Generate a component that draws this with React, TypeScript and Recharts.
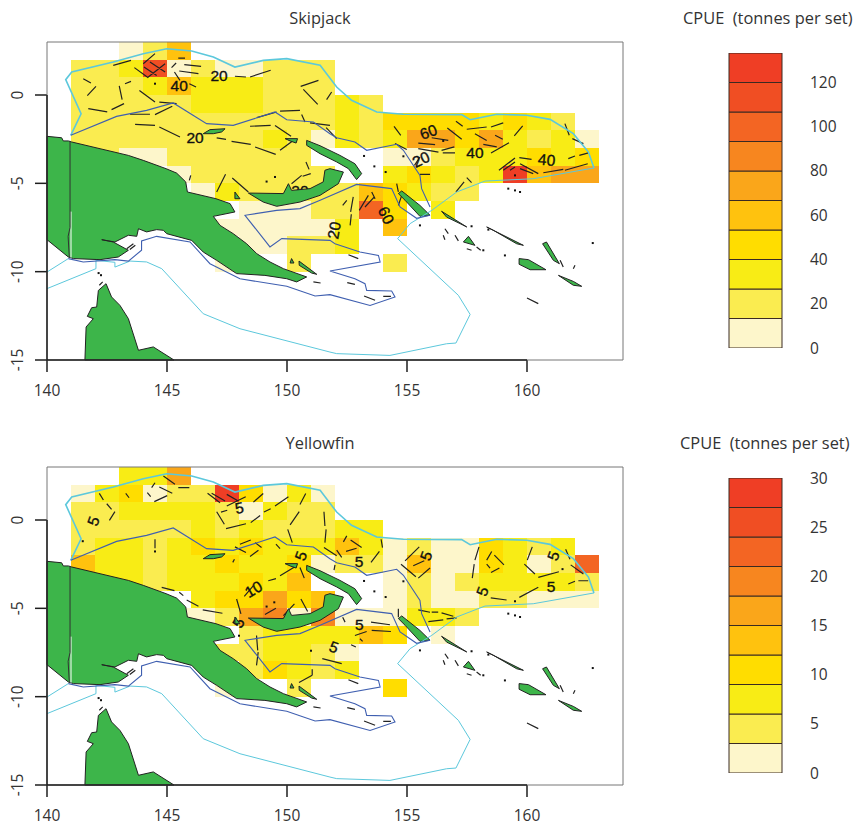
import React from 'react'
import { ScatterChart, Scatter, XAxis, YAxis } from 'recharts'

// ---- colour classes (low to high) ----
const palette = ['#FDF6CB', '#FAEC50', '#F8EC15', '#FFDD00', '#FFC20E', '#FAA61A', '#F7861F', '#F36523', '#F04E23', '#EF3E25']

// ---- axes ----
const lonTicks = [140, 145, 150, 155, 160]
const latTicks = [0, -5, -10, -15]
const lonDomain = [140, 164]
const latDomain = [-15, 3]

// ---- CPUE grid: one row per degree of latitude, first column is 141E ----
const firstLon = 141
const rowTops = [3, 2, 1, 0, -1, -2, -3, -4, -5, -6, -7, -8, -9]
const _ = null

const skipjackRows = [
  [_, _, 7, 20, 60],
  [20, 20, 33, 113, 7, 20, 7, 7, 20, 20, 20],
  [20, 20, 20, 33, 60, 33, 33, 33, 20, 20, 20],
  [20, 20, 20, 20, 20, 33, 33, 33, 20, 20, 20, 33, 20],
  [20, 20, 20, 20, 20, 20, 20, 20, 20, 20, 20, 33, 20, 47, 47, 47, 47, 33, 47, 33, 20],
  [20, 20, 20, 20, 20, 20, 20, 20, 33, 20, 7, 33, 20, 33, 73, 73, 47, 73, 33, 20, 33, 7],
  [20, 20, 7, 7, 20, 20, 20, 20, 20, 20, _, _, _, 7, 7, 20, 33, 33, 33, 47, 33, 47],
  [_, _, _, _, 7, 20, 20, 20, 20, 20, 20, _, _, 33, 47, 33, 20, 33, 127, 60, 73, 73],
  [_, _, _, _, _, 7, 33, 20, 20, 20, 20, 20, 60, 47, 33, 20, 20],
  [_, _, _, _, _, _, _, 7, 7, 7, 20, 20, 100, 47, _, 33],
  [_, _, _, _, _, _, 7, 7, 7, 7, 7, 33, _, 60],
  [_, _, _, _, _, _, _, 7, 7, 20, 20, 33],
  [_, _, _, _, _, _, 7, _, _, 20, _, _, _, 20],
]

const yellowfinRows = [
  [_, _, 7.5, 7.5, 16.5],
  [1.5, 7.5, 10.5, 1.5, 4.5, 4.5, 28.5, 10.5, 1.5, 7.5, 1.5],
  [4.5, 4.5, 7.5, 7.5, 7.5, 7.5, 4.5, 1.5, 7.5, 4.5, 4.5],
  [4.5, 4.5, 4.5, 4.5, 4.5, 7.5, 4.5, 7.5, 4.5, 4.5, 4.5, 7.5, 7.5],
  [4.5, 7.5, 7.5, 4.5, 7.5, 10.5, 7.5, 10.5, 7.5, 7.5, 7.5, 13.5, 7.5, 1.5, 4.5, 1.5, 1.5, 10.5, 7.5, 4.5, 7.5],
  [13.5, 7.5, 7.5, 4.5, 7.5, 7.5, 10.5, 7.5, 7.5, 10.5, 1.5, 4.5, 4.5, 1.5, 13.5, 1.5, 1.5, 10.5, 7.5, 1.5, 4.5, 22.5],
  [7.5, 7.5, 7.5, 4.5, 7.5, 7.5, 7.5, 10.5, 7.5, 13.5, _, _, _, 1.5, 4.5, 1.5, 4.5, 7.5, 7.5, 7.5, 7.5, 4.5],
  [_, _, _, _, _, 7.5, 10.5, 10.5, 16.5, 10.5, 13.5, _, _, 1.5, 4.5, 1.5, 1.5, 4.5, 4.5, 1.5, 1.5, 1.5],
  [_, _, _, _, 1.5, 1.5, 4.5, 16.5, 19.5, 1.5, 19.5, 1.5, 1.5, 1.5, 7.5, 7.5, 4.5],
  [_, _, _, _, _, _, _, 4.5, 7.5, 7.5, 7.5, 7.5, 13.5, 10.5, _, 1.5],
  [_, _, _, _, _, _, 4.5, 4.5, 7.5, 7.5, 4.5, 1.5],
  [_, _, _, _, _, _, _, 4.5, 10.5, 7.5, 4.5, 7.5],
  [_, _, _, _, _, _, 1.5, _, _, 4.5, _, _, _, 10.5],
]

// ---- legends ----
const skipjackBandWidth = 13.33
const yellowfinBandWidth = 3
const skipjackLegendTicks = [0, 20, 40, 60, 80, 100, 120]
const yellowfinLegendTicks = [0, 5, 10, 15, 20, 25, 30]

// ---- map outlines, [lon, lat] ----
const newGuinea = [
  [140, -2.34], [140.61, -2.42], [140.68, -2.6], [140.89, -2.6], [141.03, -2.66], [142.21, -3.04], [143.39, -3.42],
  [144.01, -3.7], [144.96, -4.17], [145.4, -4.42], [145.78, -4.92], [145.85, -5.49], [147.04, -5.87], [147.63, -6.15],
  [147.83, -6.62], [146.93, -6.87], [147.21, -7.38], [147.76, -7.85], [148.32, -8.42], [148.74, -8.98], [149.29, -9.45],
  [149.85, -9.83], [150.82, -10.3], [150.4, -10.58], [149.99, -10.4], [149.08, -10.21], [147.9, -10.11], [147.07, -9.36],
  [146.51, -8.89], [146.03, -8.23], [144.99, -7.85], [144.85, -7.66], [144.57, -7.62], [144.15, -7.75], [143.81, -7.57],
  [143.74, -8.0], [143.39, -7.94], [142.83, -8.32], [142.28, -8.19], [142.76, -8.32], [143.39, -8.79], [142.97, -9.17],
  [142.21, -9.32], [141.1, -9.26], [140.89, -9.17], [140, -8.19],
]
const capeYork = [
  [142.46, -10.68], [142.69, -11.43], [143.04, -11.91], [143.39, -12.66], [143.81, -14.45], [144.43, -14.26], [145.29, -15],
  [141.58, -15], [141.63, -13.13], [141.93, -12.66], [141.68, -12.53], [141.86, -12.04], [142.07, -12.0], [142.14, -11.06],
]
const islands = [
  [[148.39, -5.55], [149.85, -5.58], [150.06, -5.02], [150.19, -5.4], [150.96, -5.3], [151.51, -4.92], [151.58, -4.26], [151.79, -4.17], [152.35, -4.36], [152.14, -5.02], [151.375, -5.68], [150.54, -6.06], [149.57, -6.3], [149.01, -6.06]],
  [[150.82, -2.57], [151.375, -2.87], [152.21, -3.42], [152.83, -3.89], [153.11, -4.45], [152.9, -4.79], [152.56, -4.17], [152.07, -3.79], [151.375, -3.32], [150.82, -2.85]],
  [[154.78, -5.43], [155.54, -6.25], [155.96, -6.81], [155.54, -6.87], [154.92, -5.96], [154.64, -5.58]],
  [[156.44, -6.58], [157.49, -7.47], [157.21, -7.28], [156.65, -6.91]],
  [[158.32, -7.47], [159.85, -8.51], [159.57, -8.42], [158.6, -7.66]],
  [[157.35, -8.32], [157.56, -8.0], [157.83, -8.51]],
  [[160.65, -8.42], [160.81, -8.32], [161.35, -9.55], [161.1, -9.36]],
  [[159.67, -9.26], [160.06, -9.32], [160.79, -9.89], [160.13, -9.89], [159.67, -9.58]],
  [[161.31, -10.21], [161.93, -10.55], [162.28, -10.83], [161.93, -10.77]],
  [[146.51, -2.19], [146.79, -1.96], [147.42, -1.91], [147.28, -2.09], [146.93, -2.19]],
  [[149.92, -2.47], [150.44, -2.47], [150.38, -2.72], [150.13, -2.6]],
  [[147.83, -5.49], [148.04, -5.87], [147.83, -5.87]],
  [[150.19, -9.26], [150.29, -9.51], [150.13, -9.51]],
  [[150.5, -9.4], [151.24, -10.15], [151.03, -10.08], [150.51, -9.64]],
]
const borderLine = [[140.96, -2.6], [140.96, -7.5], [140.88, -8.0], [140.93, -9.2]]
const borderGap = [[141.0, -6.6], [141.0, -9.2]]

const eezNorth = [
  [140.99, -2.28], [141.42, -1.06], [140.78, 0.87], [141.03, 1.3], [142.76, 1.87], [144.01, 2.34], [144.99, 2.62], [146.03, 2.49],
  [146.93, 2.15], [147.83, 1.58], [149.01, 1.96], [149.99, 2.06], [151.38, 1.68], [152.07, 0.45], [152.69, -0.3], [153.74, -0.96],
  [154.85, -1.09], [157.28, -1.11], [157.63, -1.4], [158.74, -1.09], [159.99, -1.15], [160.96, -1.38], [161.93, -2.19], [162.56, -3.23],
  [162.79, -4.13],
]
const eezSouth = [
  [162.79, -4.13], [160.26, -4.74], [158.25, -4.87], [157.07, -5.49], [156.03, -6.53], [155.13, -7.28], [154.61, -8.13], [157.14, -11.34],
  [157.63, -12.42], [157.04, -14.04], [156.65, -14.08], [154.29, -14.74], [152.07, -14.64], [151.79, -14.55], [148.04, -13.23],
  [146.51, -12.38], [144.78, -9.83], [144.15, -9.45], [143.46, -9.4], [142.83, -9.74], [142.83, -9.47], [142.04, -9.36], [142.04, -9.83], [140, -10.96],
]
const eezWest = [[140.89, -9.26], [140, -10.02]]
const provinceNorth = [
  [140.99, -2.28], [142.9, -1.21], [144.15, -0.87], [145.26, -0.45], [146.65, -1.62], [147.76, -1.72], [149.5, -0.96], [149.99, -1.4],
  [151.1, -1.53], [151.79, -2.19], [152.07, -2.42], [152.83, -2.66], [153.32, -3.13], [154.57, -2.79], [154.85, -3.13], [155.54, -4.55],
  [155.61, -5.3], [155.96, -6.34],
]
const provinceSouth = [
  [140.89, -9.26], [141.51, -9.45], [142.83, -9.32], [143.39, -9.4], [143.94, -8.79], [143.94, -8.26], [144.57, -8.0], [145.96, -8.32],
  [146.79, -9.55], [148.04, -10.4], [149.99, -10.83], [151.17, -11.38], [151.79, -11.3], [153.46, -11.91], [154.5, -11.43], [154.36, -11.09],
  [153.32, -11.06], [153.25, -10.68], [152.83, -10.4], [151.79, -9.96], [153.88, -9.45], [153.81, -9.08], [153.04, -8.89], [152.0, -8.42],
  [151.79, -8.23], [149.78, -8.13], [149.29, -8.6], [148.25, -6.81], [149.57, -6.53], [150.54, -6.43], [151.38, -5.96], [152.9, -5.06],
  [154.36, -5.3], [154.71, -6.34], [155.4, -6.98], [155.96, -6.81],
]

// small islands too thin to fill, same on both maps
const islandStrokes = [
  [143.32, -8.7, 143.6, -8.42], [143.45, -8.75, 143.68, -8.5], [142.18, -10.77, 142.32, -10.58], [151.1, -10.58, 151.4, -10.64],
  [156.51, -7.94, 156.58, -8.19], [156.58, -7.57, 156.72, -7.85], [157.0, -7.94, 157.14, -8.26], [157.49, -8.7, 157.69, -8.79],
  [157.9, -8.6, 158.07, -8.79], [161.38, -9.36, 161.51, -9.74], [161.93, -9.83, 162.0, -9.64], [160.0, -11.49, 160.47, -11.81],
  [152.51, -10.62, 152.83, -10.72], [153.21, -11.38, 153.67, -11.62], [154.01, -11.4, 154.33, -11.4], [152.56, -9.04, 152.97, -9.26],
]
const islandDots = [
  [153.21, -3.45], [153.64, -4.04], [154.11, -4.36], [154.85, -3.47], [159.22, -5.3], [159.5, -5.4], [159.71, -5.49], [155.54, -7.38],
  [157.69, -7.43], [158.39, -7.62], [158.18, -8.79], [159.08, -9.08], [162.74, -8.38], [142.15, -10.08], [142.25, -10.2],
]

// ---- contour pieces, [lon1, lat1, lon2, lat2] ----
const skipjackContours = [
  [141.51, 0.92, 141.83, 0.68], [141.68, -0.04, 142.04, 0.49], [141.72, -0.77, 142.51, -0.96], [142.69, -0.83, 143.21, -0.49],
  [143.01, 0.51, 143.13, -0.26], [143.25, 0.64, 143.5, 0.77], [142.76, 1.68, 143.5, 1.96], [143.64, 1.55, 144.22, 0.98],
  [144.01, 1.77, 144.5, 2.34], [144.04, 1.58, 144.57, 1.11], [144.29, 1.87, 144.92, 1.3], [144.22, 1.02, 144.92, 1.77],
  [145.31, 1.3, 145.54, 0.83], [145.47, 2.09, 145.75, 2.09], [145.72, 1.72, 146.42, 1.62], [145.51, 1.36, 146.31, 1.21],
  [145.93, 0.64, 146.21, 0.45], [145.19, 1.55, 145.38, 1.81], [143.85, 0.26, 144.5, -0.4], [144.68, -0.4, 145.4, -0.49],
  [144.5, -1.11, 145.22, -0.64], [143.46, -1.09, 144.29, -1.09], [143.67, -1.66, 144.5, -1.72], [144.68, -1.81, 145.54, -2.38],
  [147.83, 1.06, 148.29, 1.02], [148.46, 1.02, 149.32, 1.4], [150.57, 0.49, 151.31, 0.83], [150.68, 0.32, 151.28, -0.53],
  [149.71, -0.91, 150.54, -0.87], [148.74, -1.28, 149.57, -0.96], [148.46, -1.77, 149.32, -1.72], [149.5, -1.72, 150.17, -2.34],
  [149.71, -3.13, 150.26, -2.57], [148.67, -2.94, 149.53, -3.36], [147.69, -2.62, 148.49, -2.79], [147.07, -2.43, 147.46, -2.51],
  [150.61, -1.11, 150.75, -1.53], [150.96, -1.58, 151.79, -1.72], [150.65, -4.6, 150.99, -4.45], [150.79, -3.79, 150.92, -4.21],
  [150.19, -5.02, 150.61, -4.55], [147.72, -4.7, 148.39, -5.49], [147.07, -5.49, 147.44, -4.49], [145.93, -4.83, 145.99, -4.55],
  [151.65, -0.26, 151.86, 0.17], [151.63, -1.85, 152.07, -2.47], [154.46, -1.77, 154.74, -2.28], [157.04, -1.49, 157.32, -1.77],
  [157.49, -1.94, 158.32, -1.81], [158.5, -1.81, 159.01, -1.58], [159.47, -2.32, 159.82, -1.75], [156.68, -1.87, 157.28, -2.51],
  [154.5, -2.75, 154.99, -3.09], [155.47, -2.72, 156.17, -2.81], [155.47, -3.04, 156.31, -3.23], [156.44, -3.13, 156.97, -2.94],
  [156.03, -2.42, 156.72, -2.57], [156.49, -3.28, 157.0, -3.28], [157.83, -2.19, 158.32, -2.57], [158.67, -2.28, 158.99, -2.51],
  [158.18, -2.79, 158.74, -2.94], [158.5, -3.28, 159.25, -2.7], [158.83, -4.26, 159.5, -3.57], [159.01, -4.26, 159.5, -3.79],
  [159.29, -4.26, 159.5, -4.08], [159.68, -3.55, 160.19, -3.64], [159.71, -3.89, 160.47, -4.45], [159.71, -4.17, 160.26, -4.45],
  [160.68, -4.4, 161.51, -4.21], [161.72, -3.6, 162.0, -3.45], [161.58, -4.26, 162.53, -3.89], [162.18, -3.42, 162.56, -3.28],
  [161.58, -1.62, 161.76, -2.28], [161.89, -2.47, 162.35, -2.75], [157.04, -5.49, 157.38, -4.92], [157.49, -4.68, 157.69, -4.96],
  [155.31, -3.98, 155.54, -3.51], [155.54, -4.49, 155.96, -4.49], [153.53, -5.49, 153.67, -5.87], [153.01, -6.53, 153.39, -5.68],
  [153.25, -6.34, 153.64, -5.77], [152.32, -6.25, 152.49, -5.96], [152.76, -5.77, 152.65, -6.62], [154.57, -5.02, 154.64, -5.49],
  [154.64, -6.25, 154.78, -5.68], [152.68, -6.75, 152.63, -7.38],
]
const yellowfinContours = [
  [142.18, 1.51, 142.35, 1.13], [142.49, 0.92, 142.69, 0.6], [142.6, -0.02, 142.83, 0.47], [143.28, 1.51, 143.42, 1.26],
  [144.36, 1.83, 144.5, 2.11], [144.18, 1.55, 144.32, 1.32], [144.68, 1.87, 145.22, 1.51], [144.85, 2.49, 145.33, 2.02],
  [144.47, 1.04, 145.01, 1.38], [145.47, 1.83, 145.93, 1.83], [146.69, 1.51, 147.21, 0.98], [146.86, 1.51, 147.42, 1.08],
  [147.49, 1.45, 147.97, 1.08], [147.49, 0.79, 148.28, 1.32], [147.07, 0.47, 147.39, -0.24], [147.25, 0.45, 147.51, 0.55],
  [147.46, -0.49, 148.29, -0.21], [148.49, -0.15, 148.88, 0.26], [149.04, 0.45, 149.32, 0.64], [149.5, 0.79, 150.06, 1.31],
  [148.6, 1.01, 149.01, 1.5], [150.54, 0.88, 150.78, 1.5], [150.13, -0.28, 150.51, 0.47], [150.03, -0.53, 150.22, -1.28],
  [151.54, 0.47, 151.58, -0.34], [151.63, -0.53, 151.58, -1.28], [151.54, -1.56, 152.07, -2.03], [152.0, -2.54, 151.96, -2.84],
  [148.04, -1.37, 148.49, -1.13], [147.83, -1.52, 148.29, -1.84], [148.46, -2.07, 148.81, -1.71], [148.67, -1.28, 148.94, -1.56],
  [149.54, -1.37, 149.71, -1.62], [144.5, -1.09, 144.5, -1.6], [149.71, -3.15, 150.4, -2.59], [149.22, -3.44, 149.54, -3.32],
  [150.54, -2.69, 150.72, -3.29], [147.74, -2.4, 147.81, -2.22], [148.22, -4.32, 148.6, -3.72], [147.9, -4.47, 148.08, -5.31],
  [149.08, -5.35, 149.54, -5.0], [149.85, -5.41, 150.31, -4.75], [150.58, -4.47, 150.86, -5.18], [144.78, -3.81, 145.31, -4.0],
  [145.51, -4.09, 145.68, -4.28], [145.82, -4.53, 146.31, -4.88], [146.49, -5.09, 147.31, -5.28], [148.73, -6.54, 148.78, -7.38],
  [148.8, -7.48, 148.73, -8.23], [152.35, -1.24, 152.49, -0.9], [152.65, -1.13, 153.11, -1.56], [152.46, -1.78, 152.9, -1.6],
  [152.07, -1.71, 152.28, -2.12], [153.5, -2.4, 153.85, -1.78], [153.92, -1.09, 153.98, -1.56], [154.92, -2.31, 155.51, -1.52],
  [154.75, -2.5, 155.37, -3.21], [155.47, -3.29, 155.96, -2.72], [155.26, -2.59, 155.72, -2.31], [158.0, -1.52, 157.83, -2.27],
  [157.8, -2.5, 157.72, -3.29], [158.32, -2.5, 158.46, -2.72], [158.32, -2.27, 158.53, -1.78], [158.64, -1.99, 159.04, -2.54],
  [158.5, -2.97, 158.85, -2.72], [160.22, -1.52, 160.01, -2.27], [159.89, -2.5, 160.33, -3.06], [160.47, -3.25, 161.33, -2.93],
  [161.61, -1.65, 161.79, -2.22], [161.82, -2.54, 162.35, -3.06], [161.72, -3.62, 162.0, -3.47], [162.14, -3.44, 162.55, -3.44],
  [159.68, -4.38, 160.47, -3.81], [158.49, -4.41, 159.15, -4.53], [155.47, -5.09, 155.96, -5.22], [156.03, -5.22, 156.3, -5.22],
  [156.44, -5.26, 156.93, -5.45], [156.65, -5.6, 157.07, -5.54], [155.89, -5.75, 156.51, -5.65], [154.64, -5.03, 154.64, -5.5],
  [153.5, -5.78, 154.29, -5.93], [153.53, -6.25, 154.33, -6.31], [152.83, -6.54, 153.32, -6.31], [153.04, -6.72, 153.15, -6.87],
  [152.32, -5.5, 152.42, -5.78], [152.67, -7.06, 152.87, -7.19], [151.47, -7.85, 152.28, -8.13], [151.05, -8.45, 151.05, -8.79],
  [151.05, -8.79, 150.5, -9.2],
]

// contour labels: lon, lat, text, angle
const skipjackLabels: [number, number, string, number][] = [
  [147.17, 1.11, '20', 0], [145.51, 0.51, '40', 0], [146.17, -2.38, '20', 0], [150.54, -5.43, '20', 0],
  [155.89, -2.09, '60', -20], [157.83, -3.28, '40', 0], [160.82, -3.66, '40', 5], [155.58, -3.64, '20', -25],
  [154.13, -6.81, '60', 65], [151.96, -7.66, '20', -80],
]
const yellowfinLabels: [number, number, string, number][] = [
  [141.93, -0.06, '5', -70], [148.01, 0.69, '5', -10], [150.58, -2.03, '5', -70], [148.6, -3.91, '10', -30],
  [147.97, -5.82, '5', -60], [151.96, -7.19, '5', 20], [153.0, -2.37, '5', 0], [155.79, -2.03, '5', -70],
  [161.1, -2.03, '5', -70], [158.14, -4.04, '5', -70], [161.0, -3.77, '5', 0], [153.01, -5.93, '5', 0],
]

const skipjackDots = [[144.5, 0.64], [149.15, -4.9], [149.5, -4.64], [156.51, -2.6], [159.5, -4.55]]
const yellowfinDots = [[141.49, -1.2], [144.5, -1.78], [149.15, -4.9], [149.47, -4.66], [161.48, -2.78], [159.5, -4.6], [148.0, -6.55], [151.0, -7.4]]

const TEXT_FONT = '"Open Sans", sans-serif'
const LAND = '#3DB54A'
const CYAN = '#5CC8DC'
const BLUE = '#3F5FB0'
const INK = '#1E1E1E'

type Pt = { x: number; y: number }
const toPts = (coords: number[][]) => coords.map(([x, y]) => ({ x, y }))
const noDot = () => <g />

// polyline or polygon drawn through the chart's scales
function pathLayer(key: string, coords: number[][], style: React.SVGProps<SVGPathElement>, closed = false) {
  const draw = (p: { points: Pt[] }) => {
    const d = p.points.map((q, i) => `${i ? 'L' : 'M'}${q.x} ${q.y}`).join('') + (closed ? 'Z' : '')
    return <path d={d} fill="none" {...style} />
  }
  return <Scatter key={key} data={toPts(coords)} line={draw as any} shape={noDot} isAnimationActive={false} legendType="none" />
}

// many separate pieces in one series, every `size` points start a new sub path
function piecesLayer(key: string, coords: number[][], size: number, style: React.SVGProps<SVGPathElement>, closed = false) {
  const draw = (p: { points: Pt[] }) => {
    const d = p.points
      .map((q, i) => {
        const start = i % size === 0
        const end = closed && i % size === size - 1
        return `${start ? 'M' : 'L'}${q.x} ${q.y}${end ? 'Z' : ''}`
      })
      .join('')
    return <path d={d} fill="none" {...style} />
  }
  return <Scatter key={key} data={toPts(coords)} line={draw as any} shape={noDot} isAnimationActive={false} legendType="none" />
}

function cellsByClass(rows: (number | null)[][], bandWidth: number) {
  const out: number[][][] = palette.map(() => [])
  rows.forEach((row, r) => {
    const top = rowTops[r]
    row.forEach((v, c) => {
      if (v === null) return
      const k = Math.min(palette.length - 1, Math.floor(v / bandWidth))
      const lon = firstLon + c
      out[k].push([lon, top], [lon + 1, top], [lon + 1, top - 1], [lon, top - 1])
    })
  })
  return out
}

const flatPieces = (list: number[][]) => list.flatMap(([a, b, c, d]) => [[a, b], [c, d]])

function XTick({ x, payload }: any) {
  return (
    <text x={x} y={396} textAnchor="middle" fontFamily={TEXT_FONT} fontSize={15.5} fill="#333">
      {payload.value}
    </text>
  )
}

function YTick({ y, payload }: any) {
  return (
    <text x={0} y={0} transform={`translate(23 ${y}) rotate(-90)`} textAnchor="middle" fontFamily={TEXT_FONT} fontSize={15.5} fill="#333">
      {payload.value}
    </text>
  )
}

function LegendTick({ y, payload }: any) {
  return (
    <text x={110} y={y + 5.5} textAnchor="start" fontFamily={TEXT_FONT} fontSize={15.5} fill="#333">
      {payload.value}
    </text>
  )
}

function ContourLabel(props: any) {
  const { cx, cy, payload } = props
  return (
    <text
      x={0}
      y={0}
      transform={`translate(${cx} ${cy}) rotate(${payload.angle})`}
      dy={5.5}
      textAnchor="middle"
      fontFamily='"Liberation Sans", sans-serif'
      fontSize={15.5}
      fill="#111"
      stroke="#111"
      strokeWidth={0.35}
    >
      {payload.text}
    </text>
  )
}

const SmallDot = (props: any) => <rect x={props.cx - 1} y={props.cy - 1} width={2} height={2} fill="#111" />

function MapPanel({ rows, bandWidth, contours, labels, dots }: any) {
  const cells = cellsByClass(rows, bandWidth)
  const labelData = labels.map(([x, y, text, angle]: any) => ({ x, y, text, angle }))
  const coast = { fill: LAND, stroke: '#222', strokeWidth: 1 }
  return (
    <ScatterChart width={640} height={400} margin={{ top: 42, right: 17, bottom: 0, left: 0 }}>
      <XAxis
        type="number"
        dataKey="x"
        domain={lonDomain}
        ticks={lonTicks}
        interval={0}
        axisLine={false}
        tickSize={12}
        tickLine={{ stroke: INK, strokeWidth: 1.5 }}
        tick={<XTick />}
        height={40}
      />
      <YAxis
        type="number"
        dataKey="y"
        domain={latDomain}
        ticks={latTicks}
        interval={0}
        axisLine={false}
        tickSize={12}
        tickLine={{ stroke: INK, strokeWidth: 1.5 }}
        tick={<YTick />}
        width={47}
      />
      {cells.map((c, k) =>
        c.length ? piecesLayer(`cell${k}`, c, 4, { fill: palette[k], shapeRendering: 'crispEdges' }, true) : null,
      )}
      {piecesLayer('contours', flatPieces(contours), 2, { stroke: '#222', strokeWidth: 1.2 })}
      <Scatter data={toPts(dots)} shape={SmallDot} isAnimationActive={false} legendType="none" />
      <Scatter data={labelData} shape={ContourLabel} isAnimationActive={false} legendType="none" />
      {pathLayer('ng', newGuinea, coast, true)}
      {pathLayer('cy', capeYork, coast, true)}
      {islands.map((isl, i) => pathLayer(`isl${i}`, isl, coast, true))}
      {pathLayer('gap', borderGap, { stroke: '#fff', strokeWidth: 1 })}
      {pathLayer('border', borderLine, { stroke: '#333', strokeWidth: 1 })}
      {piecesLayer('strokes', flatPieces(islandStrokes), 2, { stroke: '#222', strokeWidth: 1.2 })}
      <Scatter data={toPts(islandDots)} shape={SmallDot} isAnimationActive={false} legendType="none" />
      {pathLayer('eezn', eezNorth, { stroke: CYAN, strokeWidth: 1.6 })}
      {pathLayer('eezs', eezSouth, { stroke: CYAN, strokeWidth: 1 })}
      {pathLayer('eezw', eezWest, { stroke: CYAN, strokeWidth: 1 })}
      {pathLayer('provn', provinceNorth, { stroke: BLUE, strokeWidth: 1.1 })}
      {pathLayer('provs', provinceSouth, { stroke: BLUE, strokeWidth: 1.1 })}
      {pathLayer('frame', [[140, -15], [140, 3], [164, 3], [164, -15], [140, -15]], { stroke: '#777', strokeWidth: 1 })}
      {pathLayer('xline', [[140, -15], [160, -15]], { stroke: INK, strokeWidth: 1.5 })}
      {pathLayer('yline', [[140, -15], [140, 0]], { stroke: INK, strokeWidth: 1.5 })}
    </ScatterChart>
  )
}

function LegendBar({ bandWidth, ticks }: { bandWidth: number; ticks: number[] }) {
  const max = bandWidth * palette.length
  return (
    <ScatterChart width={159} height={358} margin={{ top: 53, right: 0, bottom: 10, left: 29 }}>
      <XAxis type="number" dataKey="x" domain={[0, 1]} hide height={0} />
      <YAxis
        type="number"
        dataKey="y"
        orientation="right"
        domain={[0, max]}
        ticks={ticks}
        interval={0}
        axisLine={false}
        tickLine={false}
        tick={<LegendTick />}
        width={77}
        allowDataOverflow
      />
      {palette.map((color, k) =>
        pathLayer(
          `band${k}`,
          [[0, k * bandWidth], [1, k * bandWidth], [1, (k + 1) * bandWidth], [0, (k + 1) * bandWidth]],
          { fill: color, stroke: '#3A2A22', strokeWidth: 1 },
          true,
        ),
      )}
    </ScatterChart>
  )
}

const titleStyle: React.CSSProperties = { position: 'absolute', fontFamily: TEXT_FONT, fontSize: 16.4, color: '#333', whiteSpace: 'pre', lineHeight: '20px' }

export default function App() {
  return (
    <div style={{ position: 'absolute', left: 0, top: 0, width: 859, height: 825, overflow: 'hidden', background: '#fff' }}>
      <div style={{ position: 'absolute', left: 0, top: 0 }}>
        <MapPanel rows={skipjackRows} bandWidth={skipjackBandWidth} contours={skipjackContours} labels={skipjackLabels} dots={skipjackDots} />
      </div>
      <div style={{ position: 'absolute', left: 0, top: 425 }}>
        <MapPanel rows={yellowfinRows} bandWidth={yellowfinBandWidth} contours={yellowfinContours} labels={yellowfinLabels} dots={yellowfinDots} />
      </div>
      <div style={{ position: 'absolute', left: 700, top: 0 }}>
        <LegendBar bandWidth={skipjackBandWidth} ticks={skipjackLegendTicks} />
      </div>
      <div style={{ position: 'absolute', left: 700, top: 425 }}>
        <LegendBar bandWidth={yellowfinBandWidth} ticks={yellowfinLegendTicks} />
      </div>
      <div style={{ ...titleStyle, left: 220, width: 200, textAlign: 'center', top: 8 }}>Skipjack</div>
      <div style={{ ...titleStyle, left: 220, width: 200, textAlign: 'center', top: 433 }}>Yellowfin</div>
      <div style={{ ...titleStyle, left: 683, top: 8 }}>{'CPUE  (tonnes per set)'}</div>
      <div style={{ ...titleStyle, left: 680, top: 433 }}>{'CPUE  (tonnes per set)'}</div>
    </div>
  )
}
